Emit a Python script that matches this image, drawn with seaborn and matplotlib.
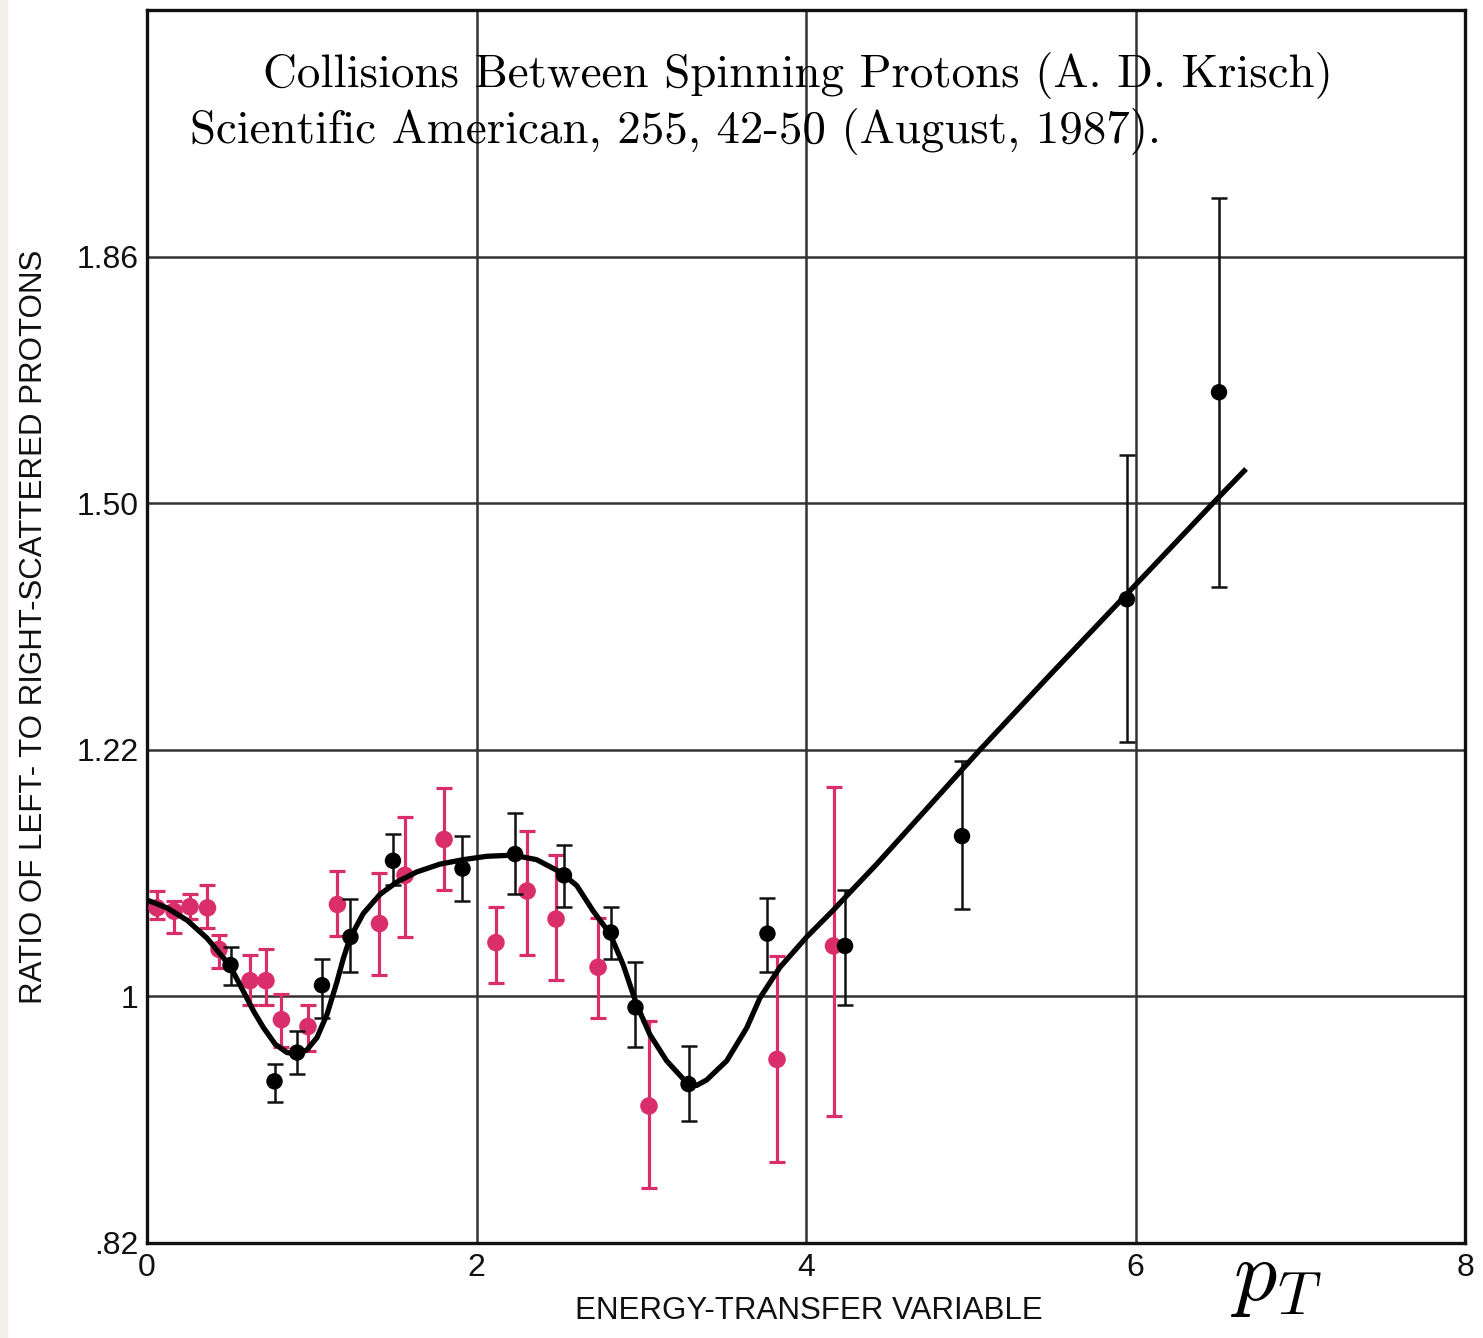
import numpy as np
import pandas as pd
import matplotlib
matplotlib.use("Agg")
import matplotlib.pyplot as plt
import seaborn as sns

# ---------------- data ----------------
black_x = [0.507, 0.774, 0.911, 1.062, 1.235, 1.493, 1.915, 2.234, 2.531, 2.816,
           2.965, 3.287, 3.766, 4.237, 4.947, 5.948, 6.507]
black_y = [1.028, 0.938, 0.959, 1.010, 1.053, 1.121, 1.114, 1.127, 1.108, 1.057,
           0.992, 0.936, 1.056, 1.045, 1.143, 1.391, 1.662]
black_hi = [1.044, 0.951, 0.975, 1.033, 1.087, 1.145, 1.143, 1.164, 1.135, 1.080,
            1.031, 0.964, 1.088, 1.095, 1.210, 1.570, 1.965]
black_lo = [1.010, 0.923, 0.943, 0.984, 1.022, 1.099, 1.085, 1.091, 1.080, 1.033,
            0.963, 0.909, 1.022, 0.994, 1.078, 1.229, 1.405]

red_x = [0.061, 0.164, 0.261, 0.367, 0.437, 0.625, 0.722, 0.816, 0.977, 1.156,
         1.411, 1.566, 1.803, 2.118, 2.307, 2.483, 2.738, 3.047, 3.824, 4.167]
red_y = [1.079, 1.076, 1.080, 1.079, 1.042, 1.014, 1.014, 0.983, 0.978, 1.082,
         1.065, 1.108, 1.140, 1.048, 1.094, 1.069, 1.026, 0.920, 0.954, 1.045]
red_hi = [1.094, 1.085, 1.091, 1.099, 1.055, 1.037, 1.042, 1.002, 0.994, 1.112,
          1.110, 1.160, 1.186, 1.080, 1.148, 1.126, 1.070, 0.982, 1.036, 1.187]
red_lo = [1.069, 1.057, 1.069, 1.061, 1.025, 0.994, 0.994, 0.963, 0.960, 1.054,
          1.019, 1.053, 1.095, 1.012, 1.037, 1.015, 0.984, 0.860, 0.879, 0.913]

curve_x = [0.000, 0.121, 0.243, 0.364, 0.466, 0.526, 0.587, 0.648, 0.708, 0.779,
           0.850, 0.911, 0.971, 1.032, 1.093, 1.153, 1.192, 1.232, 1.313, 1.414,
           1.516, 1.637, 1.778, 1.920, 2.062, 2.223, 2.365, 2.507, 2.608, 2.709,
           2.810, 2.891, 2.972, 3.053, 3.154, 3.276, 3.336, 3.397, 3.519, 3.640,
           3.721, 3.842, 4.004, 4.166, 4.287, 4.429, 5.056, 5.481, 5.948, 6.470,
           6.671]
curve_y = [1.086, 1.079, 1.068, 1.052, 1.034, 1.021, 1.004, 0.989, 0.977, 0.965,
           0.959, 0.958, 0.961, 0.970, 0.987, 1.013, 1.034, 1.052, 1.074, 1.091,
           1.102, 1.111, 1.118, 1.122, 1.125, 1.126, 1.122, 1.111, 1.099, 1.076,
           1.056, 1.028, 0.994, 0.972, 0.953, 0.937, 0.935, 0.939, 0.953, 0.977,
           0.999, 1.026, 1.053, 1.077, 1.096, 1.118, 1.220, 1.305, 1.397, 1.500,
           1.550]

y_ticks = [0.82, 1.00, 1.22, 1.50, 1.86]
y_tick_labels = [".82", "1", "1.22", "1.50", "1.86"]
x_ticks = [0, 2, 4, 6, 8]
x_tick_labels = ["0", "2", "4", "6", "8"]

# axis scale: tick values are equally spaced on the original chart
scale_vals = [0.82, 1.00, 1.22, 1.50, 1.86, 2.30]
scale_pos = [0, 1, 2, 3, 4, 5]

# ---------------- style ----------------
sns.set_theme(style="white")
plt.rcParams["font.family"] = ["Liberation Sans Narrow", "Liberation Sans", "DejaVu Sans"]
plt.rcParams["mathtext.fontset"] = "cm"

W, H = 1483, 1338
fig = plt.figure(figsize=(W / 100, H / 100), dpi=100)
fig.patch.set_facecolor("white")
# light strip at far left
fig.patches.append(plt.Rectangle((0, 0), 7 / W, 1, transform=fig.transFigure,
                                 color="#f3efea", zorder=0))

ax = fig.add_axes([147 / W, 1 - 1243 / H, 1318 / W, 1233 / H])

def fwd(v):
    return np.interp(v, scale_vals, scale_pos)

def inv(p):
    return np.interp(p, scale_pos, scale_vals)

ax.set_yscale("function", functions=(fwd, inv))

RED = "#da2e6b"
INK = "#111111"

red_df = pd.DataFrame({"x": red_x, "y": red_y})
black_df = pd.DataFrame({"x": black_x, "y": black_y})
curve_df = pd.DataFrame({"x": curve_x, "y": curve_y})

# red points
ry = np.array(red_y)
ax.errorbar(red_x, red_y,
            yerr=[ry - np.array(red_lo), np.array(red_hi) - ry],
            fmt="none", ecolor=RED, elinewidth=2.3, capsize=6, capthick=2.3, zorder=3)
sns.scatterplot(data=red_df, x="x", y="y", ax=ax, color=RED, s=160,
                edgecolor="none", zorder=4)

# black points
by = np.array(black_y)
ax.errorbar(black_x, black_y,
            yerr=[by - np.array(black_lo), np.array(black_hi) - by],
            fmt="none", ecolor=INK, elinewidth=1.8, capsize=5.5, capthick=1.8, zorder=5)

# fitted curve
sns.lineplot(data=curve_df, x="x", y="y", ax=ax, sort=False, color="black",
             lw=3.8, zorder=6, solid_joinstyle="round", solid_capstyle="butt")

sns.scatterplot(data=black_df, x="x", y="y", ax=ax, color="black", s=140,
                edgecolor="none", zorder=7)

ax.set_xlim(0, 8)
ax.set_ylim(0.82, 2.30)
ax.set_xticks(x_ticks)
ax.set_xticklabels(x_tick_labels)
ax.set_yticks(y_ticks)
ax.set_yticklabels(y_tick_labels)
ax.tick_params(axis="both", length=0, labelsize=23, colors=INK)
ax.tick_params(axis="x", pad=7)
ax.tick_params(axis="y", pad=6)

ax.grid(True, color="#333333", lw=1.8)
ax.set_axisbelow(True)
for s in ax.spines.values():
    s.set_visible(True)
    s.set_color(INK)
    s.set_linewidth(2.4)

ax.set_xlabel("ENERGY-TRANSFER VARIABLE", fontsize=22.5, color=INK)
ax.xaxis.set_label_coords((809 - 147) / 1318, (1243 - 1296) / 1233)
ax.xaxis.label.set_va("top")
ax.set_ylabel("RATIO OF LEFT- TO RIGHT-SCATTERED PROTONS", fontsize=22.5, color=INK)
ax.yaxis.set_label_coords((49 - 147) / 1318, 0.5)

# citation text
fig.text(263 / W, 1 - 87 / H, "Collisions Between Spinning Protons (A. D. Krisch)",
         family="cmr10", fontsize=33.8, ha="left", va="baseline", color="black")
fig.text(190 / W, 1 - 143 / H, "Scientific American, 255, 42-50 (August, 1987).",
         family="cmr10", fontsize=33.8, ha="left", va="baseline", color="black")

# p_T label
fig.text(1276 / W, 1 - 1300 / H, r"$p_T$", fontsize=62, ha="center",
         va="baseline", color="black")

fig.savefig("out.png", dpi=100)
